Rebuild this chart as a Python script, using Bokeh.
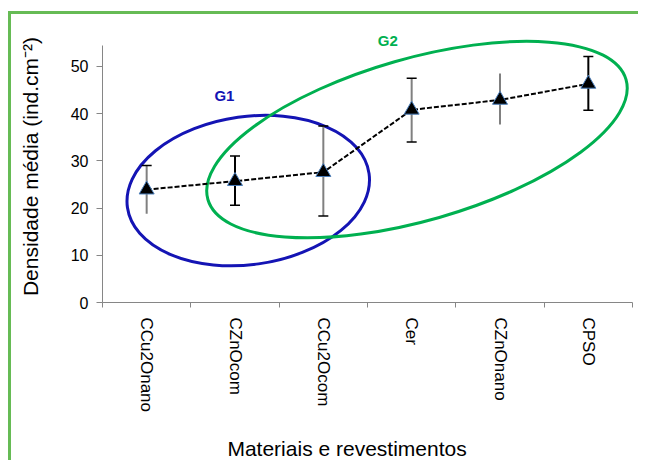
from bokeh.plotting import figure
from bokeh.models import Range1d, LinearAxis, FixedTicker
from bokeh.core.properties import value
from bokeh.embed import file_html
from bokeh.resources import INLINE

# ---- data ----
categories = ["CCu2Onano", "CZnOcom", "CCu2Ocom", "Cer", "CZnOnano", "CPSO"]
means = [23.9, 25.7, 27.6, 40.8, 42.9, 46.3]
upper = [29.0, 31.0, 37.4, 47.5, 48.5, 52.1]
lower = [18.8, 20.6, 18.3, 34.0, 37.7, 40.7]
y_ticks = [0, 10, 20, 30, 40, 50]
y_axis_top = 54.4

group_labels = ["G1", "G2"]
group_label_x = [1.38, 3.23]     # in category-slot units (0 = left edge)
group_label_y = [43.9, 55.4]
group_center_x = [1.65, 3.56]
group_center_y = [23.7, 34.5]

x_title = "Materiais e revestimentos"
y_title = "Densidade média (ind.cm⁻²)"

# which error bars show caps (style)
top_cap = [True, True, True, True, False, True]
bottom_cap = [False, True, True, True, False, True]
stem_colors = ["#808080", "#000000", "#808080", "#808080", "#808080", "#000000"]

FONT = "'Liberation Sans'"
BLUE = "#1414b4"
GREEN = "#00b050"
AXIS_GREY = "#868686"

xs = [i + 0.5 for i in range(len(categories))]   # category slot centres

p = figure(
    x_range=Range1d(0, len(categories)),
    y_range=Range1d(0, 57.6),
    width=630, height=449,
    x_axis_location=None,
    output_backend="svg", toolbar_location=None,
    min_border_left=91, min_border_right=9, min_border_top=16, min_border_bottom=161,
    outline_line_color=None,
    styles={"margin-top": "11px", "margin-left": "8px",
            "border-left": "3px solid #66bb55",
            "border-top": "3px solid #66bb55"},
)
p.grid.visible = False

# y axis
ya = p.yaxis[0]
ya.ticker = FixedTicker(ticks=y_ticks)
ya.bounds = (0, y_axis_top)
ya.axis_line_color = AXIS_GREY
ya.major_tick_line_color = AXIS_GREY
ya.minor_tick_line_color = None
ya.major_tick_in = 0
ya.major_tick_out = 6
ya.major_label_standoff = 8
ya.major_label_text_font = FONT
ya.major_label_text_font_size = "16px"
ya.major_label_text_color = "black"
ya.axis_label = y_title
ya.axis_label_text_font = FONT
ya.axis_label_text_font_size = "21px"
ya.axis_label_text_font_style = "normal"
ya.axis_label_text_color = "black"
ya.axis_label_standoff = 26

# x axis: boundary tick marks
xa_ticks = LinearAxis(ticker=FixedTicker(ticks=list(range(len(categories) + 1))),
                      axis_line_color=AXIS_GREY, major_tick_line_color=AXIS_GREY,
                      minor_tick_line_color=None, major_tick_in=0, major_tick_out=5,
                      major_label_text_font_size="1px", major_label_text_alpha=0,
                      major_label_standoff=0)
p.add_layout(xa_ticks, "below")

# x axis: category labels + title (trailing no-break spaces shift the title
# slightly left of centre, as in the original)
xa_cat = LinearAxis(ticker=FixedTicker(ticks=xs),
                    major_label_overrides={x: c for x, c in zip(xs, categories)},
                    major_label_orientation="vertical",
                    axis_line_color=None, major_tick_line_color=None,
                    minor_tick_line_color=None,
                    major_tick_in=0, major_tick_out=0,
                    major_label_standoff=10,
                    major_label_text_font=FONT,
                    major_label_text_font_size="17px",
                    major_label_text_color="black",
                    axis_label=x_title + "\u00a0" * 7,
                    axis_label_standoff=22,
                    axis_label_text_font=FONT,
                    axis_label_text_font_size="21px",
                    axis_label_text_font_style="normal",
                    axis_label_text_color="black")
p.add_layout(xa_cat, "below")

# group ellipses
p.ellipse(x=[group_center_x[0]], y=[group_center_y[0]], width=244, height=148,
          angle=8, angle_units="deg", width_units="screen", height_units="screen",
          fill_color=None, line_color=BLUE, line_width=3)
p.ellipse(x=[group_center_x[1]], y=[group_center_y[1]], width=435, height=162,
          angle=16, angle_units="deg", width_units="screen", height_units="screen",
          fill_color=None, line_color=GREEN, line_width=3)

p.text(x=group_label_x, y=group_label_y, text=group_labels,
       text_color=[BLUE, GREEN], text_font=value(FONT), text_font_size="15px",
       text_font_style="bold", text_align="center", text_baseline="middle")

# error bars
p.segment(x0=xs, y0=lower, x1=xs, y1=upper, line_color=stem_colors, line_width=2)
tc_x = [x for x, f in zip(xs, top_cap) if f]
tc_y = [u for u, f in zip(upper, top_cap) if f]
bc_x = [x for x, f in zip(xs, bottom_cap) if f]
bc_y = [l for l, f in zip(lower, bottom_cap) if f]
p.scatter(x=tc_x + bc_x, y=tc_y + bc_y, marker="dash", size=10,
          line_color="black", line_width=1.5)

# mean line and markers
p.line(x=xs, y=means, line_color="black", line_width=2, line_dash="5 2")
p.scatter(x=xs, y=means, marker="triangle", size=15,
          fill_color="black", line_color="#4a7ebb", line_width=1)

open("out.html", "w").write(file_html(p, INLINE))
